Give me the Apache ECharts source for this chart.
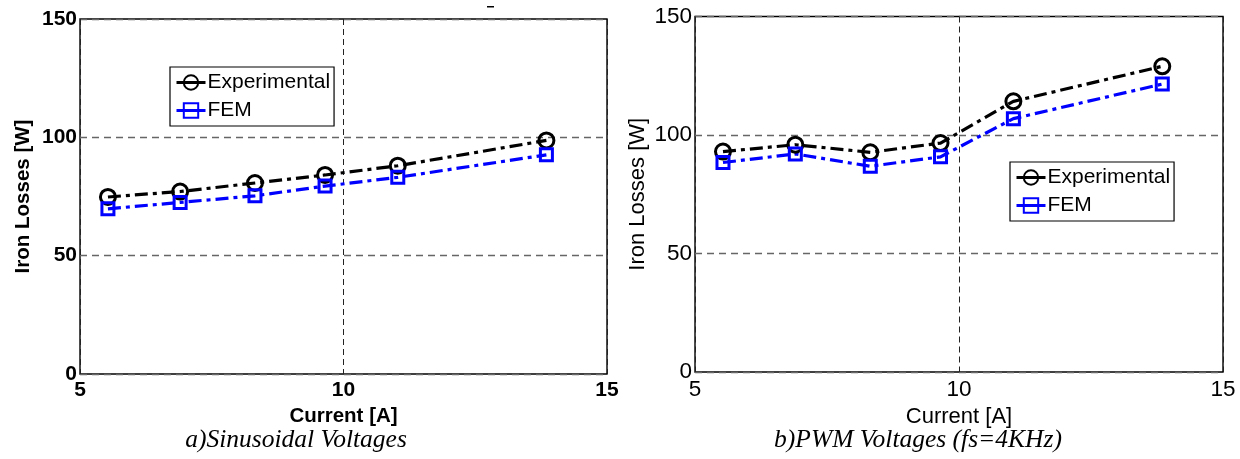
<!DOCTYPE html>
<html>
<head>
<meta charset="utf-8">
<script src="https://cdn.jsdelivr.net/npm/echarts@6/dist/echarts.min.js"></script>
<style>
html,body{margin:0;padding:0;background:#fff;}
#c{width:1240px;height:459px;}
</style>
</head>
<body>
<div id="c"></div>
<script>
// Data
const currentA = [5.53, 6.9, 8.32, 9.65, 11.03, 13.85];
const sinExperimental = [74.8, 77.1, 80.7, 84.1, 88.0, 98.7];
const sinFEM = [69.8, 72.5, 75.3, 79.4, 83.1, 92.6];
const pwmExperimental = [93.0, 95.9, 92.7, 96.6, 114.2, 129.0];
const pwmFEM = [88.4, 92.0, 86.8, 90.8, 106.9, 121.5];
const xTicks = [5, 10, 15];
const yTicks = [0, 50, 100, 150];
const captions = ['a)Sinusoidal Voltages', 'b)PWM Voltages (fs=4KHz)'];

const pair = (xs, ys) => xs.map((x, i) => [x, ys[i]]);
const FONT = '"Liberation Sans", Arial, Helvetica, sans-serif';

const chart = echarts.init(document.getElementById('c'), null, {renderer: 'canvas'});

function xAxisCfg(gridIndex, bold) {
  return {
    type: 'value', gridIndex, min: xTicks[0], max: xTicks[xTicks.length - 1], interval: 5,
    name: 'Current [A]', nameLocation: 'middle', nameGap: 27,
    nameTextStyle: {fontFamily: FONT, fontSize: bold ? 20.5 : 22, fontWeight: bold ? 'bold' : 'normal', color: '#000'},
    axisLine: {show: false}, axisTick: {show: false},
    axisLabel: {fontFamily: FONT, fontSize: bold ? 21 : 22.5, fontWeight: bold ? 'bold' : 'normal', color: '#000', margin: 6},
    splitLine: {show: true, lineStyle: {color: '#222', width: 1, type: [6, 4]}}
  };
}
function yAxisCfg(gridIndex, bold) {
  return {
    type: 'value', gridIndex, min: yTicks[0], max: yTicks[yTicks.length - 1], interval: 50,
    name: 'Iron Losses [W]', nameLocation: 'middle', nameGap: 46,
    nameTextStyle: {fontFamily: FONT, fontSize: bold ? 20.5 : 22, fontWeight: bold ? 'bold' : 'normal', color: '#000'},
    axisLine: {show: false}, axisTick: {show: false},
    axisLabel: {fontFamily: FONT, fontSize: bold ? 21 : 22.5, fontWeight: bold ? 'bold' : 'normal', color: '#000', margin: 3},
    splitLine: {show: true, lineStyle: {color: '#666', width: 1.3, type: [7, 5]}}
  };
}
function seriesCfg(name, data, xi, color, symbol, size) {
  return {
    name, type: 'line', xAxisIndex: xi, yAxisIndex: xi, data,
    symbol, symbolSize: size, showSymbol: true,
    lineStyle: {color, width: 3.2, type: [13, 5, 4, 5]},
    itemStyle: {color: 'rgba(0,0,0,0)', borderColor: color, borderWidth: 3},
    emphasis: {disabled: true}, animation: false, z: 3
  };
}
function legendCfg(left, top) {
  return {
    data: ['Experimental', 'FEM'], orient: 'vertical', left, top,
    backgroundColor: '#fff', borderColor: '#000', borderWidth: 1.2,
    padding: [3, 4, 3, 5], itemGap: 3, itemWidth: 29, itemHeight: 18,
    lineStyle: {type: 'solid', width: 3},
    textStyle: {fontFamily: FONT, fontSize: 21, color: '#000', lineHeight: 25, padding: [0, 0, 0, -3]},
    selectedMode: false
  };
}

chart.setOption({
  backgroundColor: '#fff',
  animation: false,
  grid: [
    {left: 80, top: 19, width: 527, height: 355, show: true, borderColor: '#000', borderWidth: 1.4, backgroundColor: 'transparent'},
    {left: 695, top: 16.5, width: 528, height: 355.5, show: true, borderColor: '#000', borderWidth: 1.4, backgroundColor: 'transparent'}
  ],
  xAxis: [xAxisCfg(0, true), xAxisCfg(1, false)],
  yAxis: [yAxisCfg(0, true), yAxisCfg(1, false)],
  legend: [legendCfg(170, 67), legendCfg(1010, 162)],
  series: [
    seriesCfg('Experimental', pair(currentA, sinExperimental), 0, '#000', 'circle', 15),
    seriesCfg('FEM', pair(currentA, sinFEM), 0, '#0000ff', 'rect', 12),
    seriesCfg('Experimental', pair(currentA, pwmExperimental), 1, '#000', 'circle', 15),
    seriesCfg('FEM', pair(currentA, pwmFEM), 1, '#0000ff', 'rect', 12)
  ],
  graphic: [
    {type: 'text', x: 296, y: 440, style: {text: captions[0], font: 'italic 25.5px "Liberation Serif", "Times New Roman", serif', fill: '#000', textAlign: 'center', textVerticalAlign: 'middle'}},
    {type: 'text', x: 918, y: 440, style: {text: captions[1], font: 'italic 25.5px "Liberation Serif", "Times New Roman", serif', fill: '#000', textAlign: 'center', textVerticalAlign: 'middle'}},
    {type: 'rect', shape: {x: 487, y: 6, width: 7, height: 1.5}, style: {fill: '#000'}}
  ]
});
</script>
</body>
</html>
